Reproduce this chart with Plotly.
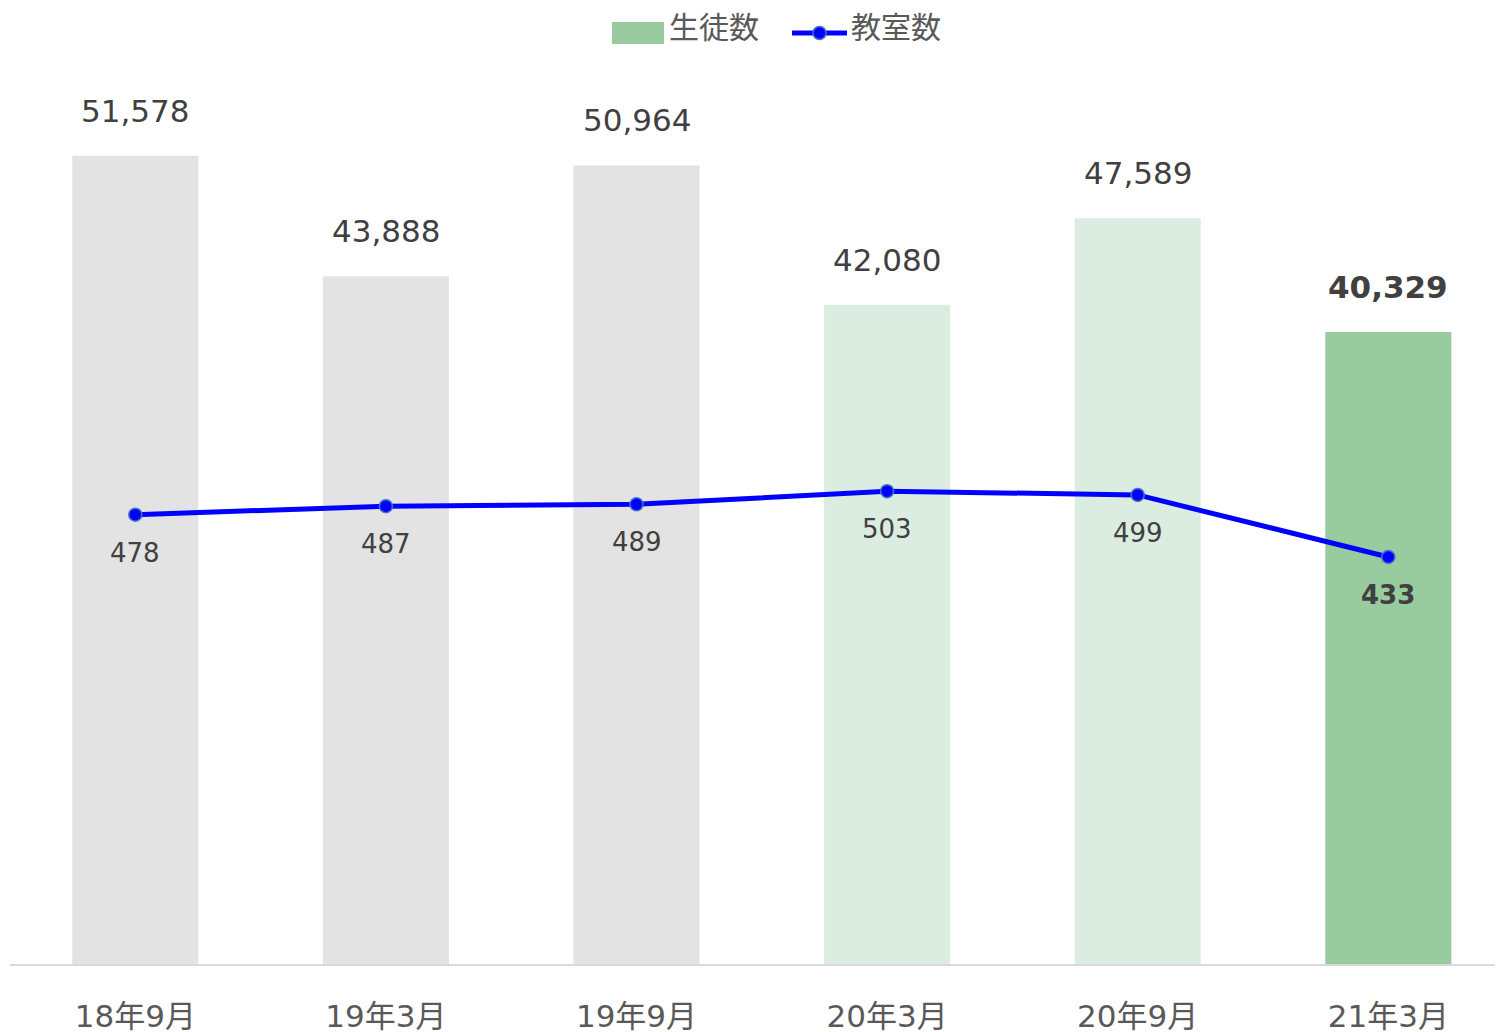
import plotly.graph_objects as go

categories = ["18年9月", "19年3月", "19年9月", "20年3月", "20年9月", "21年3月"]
students = [51578, 43888, 50964, 42080, 47589, 40329]
classrooms = [478, 487, 489, 503, 499, 433]
bar_colors = ["#E3E3E3", "#E3E3E3", "#E3E3E3", "#DBEDE0", "#DBEDE0", "#98CB9E"]
series_names = ["生徒数", "教室数"]

FONT = "DejaVu Sans, Noto Sans CJK JP, sans-serif"
x_idx = list(range(len(categories)))

fig = go.Figure()
fig.add_trace(go.Bar(x=x_idx, y=students, name=series_names[0],
                     marker=dict(color=bar_colors, line=dict(width=0)),
                     width=0.503, showlegend=False, hoverinfo="skip"))
fig.add_trace(go.Scatter(x=x_idx, y=classrooms, yaxis="y2", name=series_names[1], mode="lines+markers",
                         showlegend=False,
                         line=dict(color="#0000FF", width=5),
                         marker=dict(color="#0000FF", size=13, line=dict(color="#4472C4", width=1.5))))

n = len(categories)
for i, (v, c) in enumerate(zip(students, classrooms)):
    last = i == n - 1
    fig.add_annotation(x=i, y=v, xref="x", yref="y", text=f"<b>{v:,}</b>" if last else f"{v:,}",
                       showarrow=False, yanchor="middle", yshift=45,
                       font=dict(family=FONT, size=31, color="#404040"))
    fig.add_annotation(x=i, y=c, xref="x", yref="y2", text=f"<b>{c}</b>" if last else f"{c}",
                       showarrow=False, yanchor="middle", yshift=-38,
                       font=dict(family=FONT, size=26, color="#404040"))

# manual legend; paper coords are relative to the plot area (screen x 10..1503, y 60..964)
W, H = 1495, 1024
def px(x):
    return (x - 10) / 1493
def py(y):
    return (964 - y) / 904

fig.add_shape(type="rect", xref="paper", yref="paper", x0=px(612), x1=px(664), y0=py(44), y1=py(22),
              fillcolor="#98CB9E", line=dict(width=0), layer="above")
fig.add_annotation(xref="paper", yref="paper", x=px(667), y=py(28), text=series_names[0],
                   showarrow=False, xanchor="left", yanchor="middle",
                   font=dict(family=FONT, size=30, color="#595959"))
fig.add_shape(type="line", xref="paper", yref="paper", x0=px(792), x1=px(847), y0=py(33), y1=py(33),
              line=dict(color="#0000FF", width=5), layer="above")
fig.add_shape(type="circle", xref="paper", yref="paper", x0=px(813), x1=px(826), y0=py(39.5), y1=py(26.5),
              fillcolor="#0000FF", line=dict(color="#4472C4", width=1.5), layer="above")
fig.add_annotation(xref="paper", yref="paper", x=px(849), y=py(28), text=series_names[1],
                   showarrow=False, xanchor="left", yanchor="middle",
                   font=dict(family=FONT, size=30, color="#595959"))

fig.update_layout(
    width=W, height=H,
    margin=dict(l=2, r=0, t=52, b=68),
    paper_bgcolor="white", plot_bgcolor="white",
    font=dict(family=FONT, color="#595959"),
    xaxis=dict(tickmode="array", tickvals=x_idx, ticktext=categories,
               range=[-0.5, -0.5 + 1493 / 250.6], automargin=False,
               showline=True, linecolor="#D9D9D9", linewidth=2, showgrid=False, zeroline=False,
               ticks="", tickfont=dict(family=FONT, size=31, color="#595959"),
               ticklabelstandoff=24),
    yaxis=dict(range=[0, 57697], visible=False, showgrid=False, zeroline=False, automargin=False),
    yaxis2=dict(range=[0, 961.7], overlaying="y", side="right", visible=False,
                showgrid=False, zeroline=False, automargin=False),
    showlegend=False,
)

fig.write_html("out.html")
